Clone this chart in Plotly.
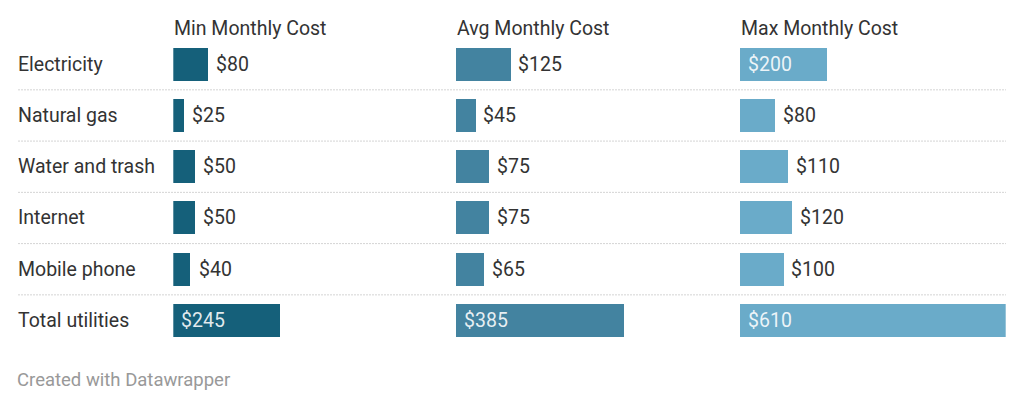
import plotly.graph_objects as go

categories = ["Electricity", "Natural gas", "Water and trash", "Internet", "Mobile phone", "Total utilities"]
series_names = ["Min Monthly Cost", "Avg Monthly Cost", "Max Monthly Cost"]
min_cost = [80, 25, 50, 50, 40, 245]
avg_cost = [125, 45, 75, 75, 65, 385]
max_cost = [200, 80, 110, 120, 100, 610]

OFF = 8  # page body margin
PAD = 2  # annotation inner padding
W, H = 1024 - OFF, 408 - OFF
FONT = "Roboto"
FS = 19.5
colors = ["#15607a", "#4383a0", "#6aabc9"]
col_px = [(173.3 - OFF, 439.3 - OFF), (455.8 - OFF, 721.8 - OFF), (739.7 - OFF, 1005.7 - OFF)]
xmax = max(max(min_cost), max(avg_cost), max(max_cost))
row0, pitch = 64.2 - OFF, 51.26
y_top = -row0 / pitch
y_bot = (H - row0) / pitch

fig = go.Figure()
series = [min_cost, avg_cost, max_cost]
annotations = []
for k, (name, vals) in enumerate(zip(series_names, series)):
    ax = "x" if k == 0 else f"x{k+1}"
    fig.add_trace(go.Bar(
        x=vals, y=list(range(len(categories))), orientation="h",
        xaxis=ax, yaxis="y", width=0.644,
        marker=dict(color=colors[k], line=dict(width=0)),
        hoverinfo="skip", showlegend=False,
    ))
    px_per = (col_px[k][1] - col_px[k][0]) / xmax
    for i, v in enumerate(vals):
        label = f"${v:,}"
        label_w = len(label) * 0.5615 * FS
        inside = v * px_per >= label_w + 16
        annotations.append(dict(
            xref=ax, yref="y", x=0 if inside else v, y=i,
            xshift=8 - PAD, xanchor="left", yanchor="middle", showarrow=False,
            text=label,
            font=dict(family=FONT, size=FS, color="rgba(255,255,255,0.88)" if inside else "#333333"),
        ))
    annotations.append(dict(
        xref="paper", yref="paper", x=(col_px[k][0] + 1 - PAD) / W, y=1 - (28 - OFF) / H,
        xanchor="left", yanchor="middle", showarrow=False, text=name,
        font=dict(family=FONT, size=FS, color="#333333"),
    ))

for i, c in enumerate(categories):
    annotations.append(dict(
        xref="paper", yref="y", x=(18 - OFF - PAD) / W, y=i, xanchor="left", yanchor="middle",
        showarrow=False, text=c, font=dict(family=FONT, size=FS, color="#333333"),
    ))

annotations.append(dict(
    xref="paper", yref="paper", x=(16.5 - OFF - PAD) / W, y=1 - (380 - OFF) / H, xanchor="left", yanchor="middle",
    showarrow=False, text="Created with Datawrapper",
    font=dict(family=FONT, size=18.5, color="#999999"),
))

shapes = []
for i in range(len(categories) - 1):
    shapes.append(dict(
        type="line", xref="paper", yref="y", x0=(18 - OFF) / W, x1=(1006 - OFF) / W, y0=i + 0.5, y1=i + 0.5,
        line=dict(color="#d4d4d4", width=1, dash="2px,1px"),
    ))

axis_common = dict(range=[0, xmax], showgrid=False, zeroline=False, showticklabels=False,
                   showline=False, ticks="", fixedrange=True, anchor="y")
fig.update_layout(
    width=W, height=H,
    margin=dict(l=0, r=0, t=0, b=0),
    paper_bgcolor="white", plot_bgcolor="white",
    xaxis=dict(domain=[col_px[0][0] / W, col_px[0][1] / W], **axis_common),
    xaxis2=dict(domain=[col_px[1][0] / W, col_px[1][1] / W], **axis_common),
    xaxis3=dict(domain=[col_px[2][0] / W, col_px[2][1] / W], **axis_common),
    yaxis=dict(range=[y_bot, y_top], showgrid=False, zeroline=False, showticklabels=False,
               showline=False, ticks="", fixedrange=True),
    annotations=annotations, shapes=shapes,
    bargap=0, font=dict(family=FONT),
)
fig.write_html("out.html", config={"displayModeBar": False})
